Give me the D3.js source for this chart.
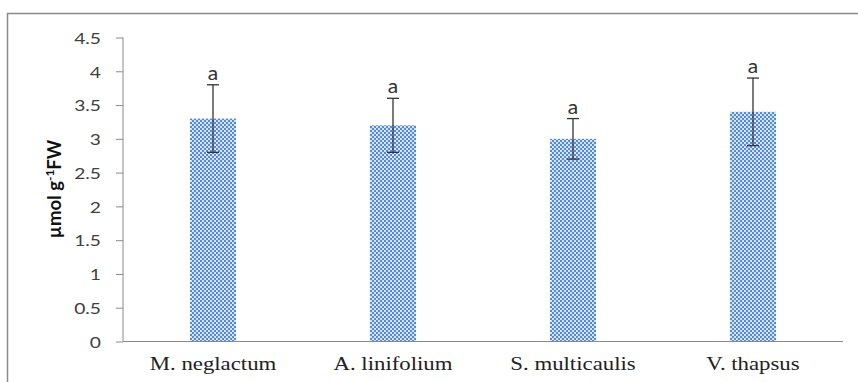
<!DOCTYPE html>
<html><head><meta charset="utf-8">
<script src="https://cdn.jsdelivr.net/npm/d3@7"></script>
<style>body{margin:0;background:#fff}</style>
</head><body>
<svg id="c" width="858" height="382"></svg>
<script>
const categories = ["M. neglactum", "A. linifolium", "S. multicaulis", "V. thapsus"];
const means = [3.3, 3.2, 3.0, 3.4];
const errors = [0.5, 0.4, 0.3, 0.5];
const letters = ["a", "a", "a", "a"];
const yTicks = [0, 0.5, 1, 1.5, 2, 2.5, 3, 3.5, 4, 4.5];

const svg = d3.select("#c");
const SX = 1.2;

// frame
svg.append("rect").attr("x", 7.5).attr("y", 13.5).attr("width", 900).attr("height", 400)
  .attr("fill", "none").attr("stroke", "#8a8a8a").attr("stroke-width", 1.5);

const defs = svg.append("defs");
const pat = defs.append("pattern").attr("id", "chk").attr("patternUnits", "userSpaceOnUse")
  .attr("width", 4).attr("height", 4);
pat.append("rect").attr("width", 4).attr("height", 4).attr("fill", "#d6e4f8");
pat.append("rect").attr("width", 2).attr("height", 2).attr("fill", "#5589da");
pat.append("rect").attr("x", 2).attr("y", 2).attr("width", 2).attr("height", 2).attr("fill", "#5589da");

const x = d3.scaleBand().domain(categories).range([123, 843]).paddingInner(0.744).paddingOuter(0.372);
const y = d3.scaleLinear().domain([0, 4.5]).range([341.5, 37.5]);

// y axis
const ya = svg.append("g").attr("transform", "translate(123,0)")
  .call(d3.axisLeft(y).tickValues(yTicks).tickSize(7).tickFormat(d => String(d)));
ya.select(".domain").attr("stroke", "#8a8a8a").attr("d", `M0,${y(4.5)}V${y(0)}`);
ya.selectAll(".tick line").attr("stroke", "#8a8a8a");
ya.selectAll(".tick text")
  .attr("x", null).attr("dy", "0.36em")
  .attr("transform", `translate(-22,0) scale(${SX},1)`)
  .attr("font-family", "Lato, 'Open Sans', sans-serif").attr("font-size", 16)
  .attr("fill", "#404040");

// bars
svg.append("g").selectAll("rect").data(categories).join("rect")
  .attr("x", d => x(d)).attr("width", x.bandwidth())
  .attr("y", (d, i) => y(means[i])).attr("height", (d, i) => y(0) - y(means[i]))
  .attr("fill", "url(#chk)");

// x axis
svg.append("line").attr("x1", 123).attr("x2", 843).attr("y1", y(0)).attr("y2", y(0))
  .attr("stroke", "#8a8a8a").attr("stroke-width", 1.2);

// error bars
const eb = svg.append("g").attr("stroke", "#333").attr("stroke-width", 1.3);
categories.forEach((c, i) => {
  const cx = x(c) + x.bandwidth() / 2;
  const t = y(means[i] + errors[i]), b = y(means[i] - errors[i]);
  eb.append("line").attr("x1", cx).attr("x2", cx).attr("y1", t).attr("y2", b);
  eb.append("line").attr("x1", cx - 6).attr("x2", cx + 6).attr("y1", t).attr("y2", t);
  eb.append("line").attr("x1", cx - 6).attr("x2", cx + 6).attr("y1", b).attr("y2", b);
  svg.append("text").text(letters[i])
    .attr("transform", `translate(${cx},${t - 5}) scale(1.1,1)`)
    .attr("text-anchor", "middle").attr("font-family", "Lato, 'Open Sans', sans-serif")
    .attr("font-size", 19).attr("fill", "#333");
});

// x labels
categories.forEach(c => {
  svg.append("text").text(c)
    .attr("transform", `translate(${x(c) + x.bandwidth() / 2},370) scale(${SX},1)`)
    .attr("text-anchor", "middle").attr("font-family", "'Liberation Serif', 'Times New Roman', serif")
    .attr("font-size", 19).attr("fill", "#222");
});

// y title
const yt = svg.append("text").attr("transform", "translate(61,189) rotate(-90)")
  .attr("text-anchor", "middle").attr("font-family", "Lato, 'Open Sans', sans-serif")
  .attr("font-weight", "bold").attr("font-size", 18.5).attr("fill", "#111");
yt.append("tspan").text("µmol g");
yt.append("tspan").text("-1").attr("font-size", 12).attr("dy", -7);
yt.append("tspan").text("FW").attr("dy", 7);
</script>
</body></html>
